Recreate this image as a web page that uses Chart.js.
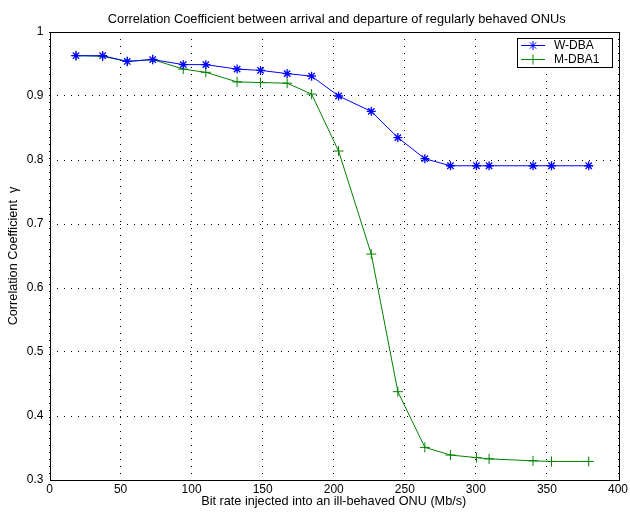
<!DOCTYPE html>
<html>
<head>
<meta charset="utf-8">
<script src="https://cdn.jsdelivr.net/npm/chart.js@4"></script>
<style>
  html, body { margin: 0; padding: 0; background: #fff; }
  #wrap { width: 630px; height: 512px; }
</style>
</head>
<body>
<div id="wrap"><canvas id="chart" width="630" height="512"></canvas></div>
<script>
// bit rate injected into the ill-behaved ONU (Mb/s)
const bitRates = [18.6, 37.4, 54.7, 72.6, 94.1, 110, 132, 148.5, 167.2, 184.4,
                  203.4, 226.4, 245.1, 264.1, 282.1, 300.4, 309.3, 340.2, 353.2, 379.4];
const wdba = [0.963, 0.963, 0.954, 0.957, 0.949, 0.949, 0.942, 0.940, 0.935, 0.931,
              0.900, 0.876, 0.835, 0.802, 0.791, 0.791, 0.791, 0.791, 0.791, 0.791];
const mdba1 = [0.963, 0.962, 0.954, 0.957, 0.942, 0.937, 0.922, 0.921, 0.920, 0.903,
               0.814, 0.653, 0.438, 0.351, 0.339, 0.335, 0.333, 0.330, 0.329, 0.329];
const xTicks = [0, 50, 100, 150, 200, 250, 300, 350, 400];
const yTicks = [0.3, 0.4, 0.5, 0.6, 0.7, 0.8, 0.9, 1];

const titleText = 'Correlation Coefficient between arrival and departure of regularly behaved ONUs';
const font = "'Liberation Sans', Arial, Helvetica, sans-serif";

const toPoints = ys => bitRates.map((x, i) => ({ x: x, y: ys[i] }));

// title, box around the axes and the legend, matlab style
const framePlugin = {
  id: 'frame',
  afterDatasetsDraw(chart) {
    const { ctx, chartArea: a } = chart;
    ctx.save();
    ctx.fillStyle = '#000';
    ctx.font = '12.8px ' + font;
    ctx.textAlign = 'center';
    ctx.textBaseline = 'middle';
    ctx.fillText(titleText, (a.left + a.right) / 2 + 3, 19);

    ctx.strokeStyle = '#000';
    ctx.lineWidth = 1;
    ctx.setLineDash([]);
    ctx.strokeRect(Math.round(a.left) + 0.5, Math.round(a.top) + 0.5,
                   Math.round(a.right - a.left), Math.round(a.bottom - a.top));

    // legend box
    const bx = 517.5, by = 38.5, bw = 95, bh = 29;
    ctx.fillStyle = '#fff';
    ctx.fillRect(bx, by, bw, bh);
    ctx.strokeRect(bx, by, bw, bh);
    ctx.font = '12px ' + font;
    ctx.textAlign = 'left';
    chart.data.datasets.forEach((ds, i) => {
      const y = 45.5 + i * 14;
      ctx.strokeStyle = ds.borderColor;
      ctx.lineWidth = 1;
      ctx.beginPath();
      ctx.moveTo(521, y);
      ctx.lineTo(545, y);
      ctx.stroke();
      Chart.helpers.drawPoint(ctx, {
        pointStyle: ds.pointStyle, radius: ds.pointRadius,
        borderWidth: 1, rotation: 0
      }, 533, y);
      ctx.fillStyle = '#000';
      ctx.fillText(ds.label, 554, y + 0.5);
    });
    ctx.restore();
  }
};

new Chart(document.getElementById('chart'), {
  type: 'line',
  data: {
    datasets: [
      {
        label: 'W-DBA',
        data: toPoints(wdba),
        borderColor: '#0000ff',
        backgroundColor: '#0000ff',
        borderWidth: 1,
        pointStyle: 'star',
        pointRadius: 4.5,
        pointBorderWidth: 1.3,
        tension: 0,
        fill: false
      },
      {
        label: 'M-DBA1',
        data: toPoints(mdba1),
        borderColor: '#008000',
        backgroundColor: '#008000',
        borderWidth: 1,
        pointStyle: 'cross',
        pointRadius: 5,
        pointBorderWidth: 1,
        tension: 0,
        fill: false
      }
    ]
  },
  options: {
    responsive: false,
    animation: false,
    layout: { padding: { left: 0, right: 12, top: 32, bottom: 0 } },
    plugins: {
      legend: { display: false },
      tooltip: { enabled: false },
      title: { display: false }
    },
    scales: {
      x: {
        type: 'linear',
        min: 0,
        max: 400,
        afterBuildTicks: s => { s.ticks = xTicks.map(v => ({ value: v })); },
        afterFit: s => { s.height = 32; s.paddingLeft = 0; s.paddingRight = 0; },
        ticks: {
          color: '#000',
          font: { family: font, size: 12 },
          padding: 2,
          maxRotation: 0
        },
        grid: {
          color: '#000',
          lineWidth: 1,
          drawTicks: false
        },
        border: { display: false, dash: [1, 6] },
        title: {
          display: true,
          text: 'Bit rate injected into an ill-behaved ONU (Mb/s)',
          color: '#000',
          font: { family: font, size: 12.7 },
          padding: { top: 0, bottom: 3 }
        }
      },
      y: {
        type: 'linear',
        min: 0.3,
        max: 1,
        afterBuildTicks: s => { s.ticks = yTicks.map(v => ({ value: v })); },
        afterFit: s => { s.width = 49.5; s.paddingTop = 0; s.paddingBottom = 0; },
        ticks: {
          color: '#000',
          font: { family: font, size: 12 },
          padding: 6,
          callback: v => String(Math.round(v * 10) / 10)
        },
        grid: {
          color: '#000',
          lineWidth: 1,
          drawTicks: false
        },
        border: { display: false, dash: [1, 6] },
        title: {
          display: true,
          text: 'Correlation Coefficient  \u03b3',
          color: '#000',
          font: { family: font, size: 12.7 },
          padding: { top: 6, bottom: 0 }
        }
      }
    }
  },
  plugins: [framePlugin]
});
</script>
</body>
</html>
